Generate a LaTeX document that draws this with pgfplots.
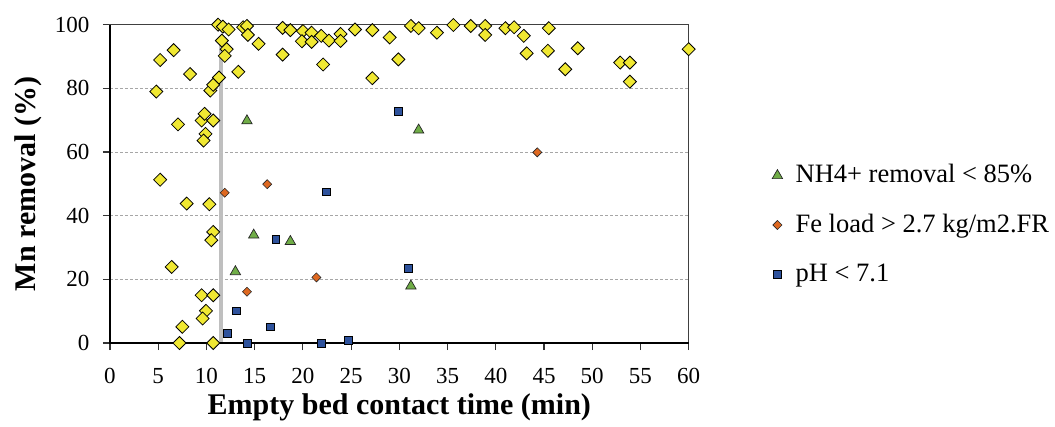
\documentclass[border=0pt]{standalone}
\usepackage{pgfplots}
\pgfplotsset{compat=1.18}
\usepackage{fontspec}
\setmainfont{Liberation Serif}

\definecolor{ylw}{RGB}{240,232,50}
\definecolor{grn}{RGB}{112,173,71}
\definecolor{org}{RGB}{222,104,32}
\definecolor{blu}{RGB}{46,82,156}

\begin{document}
\begin{tikzpicture}
  % fix page to the reference proportions (1055 x 426)
  \useasboundingbox (-110pt,-83pt) rectangle (945pt,343pt);
  \begin{axis}[
      at={(0,0)}, anchor=south west,
      scale only axis,
      width=578.7pt, height=318.3pt,
      xmin=0, xmax=60, ymin=0, ymax=100,
      xtick={0,5,...,60},
      ytick={0,20,...,100},
      tick pos=left,
      tick align=outside,
      major tick length=7pt,
      tick style={black!80, line width=1.1pt},
      axis line style={black!75, line width=1.2pt},
      ymajorgrids=true,
      grid style={black!35, line width=0.9pt, dash pattern=on 3pt off 2pt},
      clip=false,
      /pgf/number format/assume math mode=true,
      ticklabel style={font=\fontsize{23}{27}\selectfont},
      xticklabel style={yshift=-15pt},
      yticklabel style={xshift=-10pt},
      xlabel={Empty bed contact time (min)},
      ylabel={Mn removal (\%)},
      every axis x label/.style={at={(axis description cs:0.5,-0.2253)}, anchor=base, font=\fontsize{30}{34}\selectfont\bfseries},
      every axis y label/.style={at={(axis description cs:-0.1279,0.5)}, rotate=90, anchor=base, font=\fontsize{30}{34}\selectfont\bfseries},
      legend image code/.code={\draw[#1] plot coordinates {(0pt,0pt)};},
      legend cell align=left,
      legend style={at={(1.144,0.3707)}, anchor=west, draw=none, fill=none,
        inner sep=0pt, column sep=13pt, row sep=25.4pt,
        font=\fontsize{26.5}{30}\selectfont,
        nodes={inner sep=0pt, text height=19pt, text depth=5pt}},
    ]
    % grey reference line
    \addplot[forget plot, no marks, black!25, line width=3.5pt] coordinates {(11.5,0) (11.5,95)};

    % all other data
    \addplot[forget plot, only marks, mark=square*, mark size=4.6pt,
      mark options={rotate=45, fill=ylw, draw=black, line width=0.8pt}] coordinates {
      (4.8,79.0) (5.2,88.9) (5.2,51.3) (6.6,92.0) (6.4,23.9) (7.05,68.7)
      (7.2,0) (7.5,5.1) (7.95,43.8) (8.3,84.5) (9.5,69.9) (9.8,72.0)
      (9.9,65.7) (9.7,63.6) (9.5,15.0) (9.95,10.1) (9.6,7.7) (10.3,43.6)
      (10.4,79.3) (10.7,81.1) (10.7,69.9) (10.7,34.9) (10.5,32.3) (10.7,15.0)
      (10.7,0) (11.3,83.4) (11.2,100) (11.7,99.4) (12.3,98.5) (11.6,95.0)
      (12.1,92.3) (11.9,90.2) (13.3,85.2) (13.8,99.2) (14.2,99.6) (14.3,96.8)
      (15.4,94.0) (17.9,99.0) (18.7,98.3) (17.9,90.6) (20.0,98.0) (19.9,94.8)
      (20.9,97.5) (20.9,94.6) (21.9,96.5) (22.7,95.0) (22.1,87.5) (23.9,97.1)
      (23.9,94.9) (25.4,98.5) (27.2,98.3) (27.2,83.2) (29.0,96.0) (29.9,89.1)
      (31.2,99.6) (32.0,98.9) (33.9,97.5) (35.6,99.9) (37.4,99.6) (38.9,99.6)
      (38.9,96.8) (41.0,98.9) (41.9,99.2) (42.9,96.5) (43.2,91.0) (45.5,98.9)
      (45.4,91.8) (47.2,86.0) (48.5,92.6) (52.9,88.1) (53.9,88.1) (53.9,82.1)
      (60.0,92.3)
    };

    \addplot[only marks, mark=triangle*, mark size=6pt,
      mark options={fill=grn, draw=black!85, line width=0.7pt}] coordinates {
      (14.2,69.8) (14.9,33.9) (18.7,31.9) (13.0,22.4) (32.0,66.9) (31.2,17.9)
    };
    \addlegendentry{NH4+ removal < 85\%}

    \addplot[only marks, mark=square*, mark size=3.2pt,
      mark options={rotate=45, fill=org, draw=black!85, line width=0.6pt}] coordinates {
      (16.3,49.9) (11.9,47.2) (14.2,16.1) (21.4,20.6) (44.3,59.9)
    };
    \addlegendentry{Fe load > 2.7 kg/m2.FR}

    \addplot[only marks, mark=square*, mark size=3.9pt,
      mark options={fill=blu, draw=black, line width=0.7pt}] coordinates {
      (17.2,32.5) (13.1,10.1) (16.6,5.1) (12.2,3.0) (14.2,0)
      (29.9,72.7) (22.4,47.5) (30.9,23.4) (21.9,0) (24.7,0.9)
    };
    \addlegendentry{pH < 7.1}

    % heavier left and bottom axis lines
    \draw[black, line width=2.8pt] (rel axis cs:0,1) -- (rel axis cs:0,0) -- (rel axis cs:1,0);
  \end{axis}
\end{tikzpicture}
\end{document}
